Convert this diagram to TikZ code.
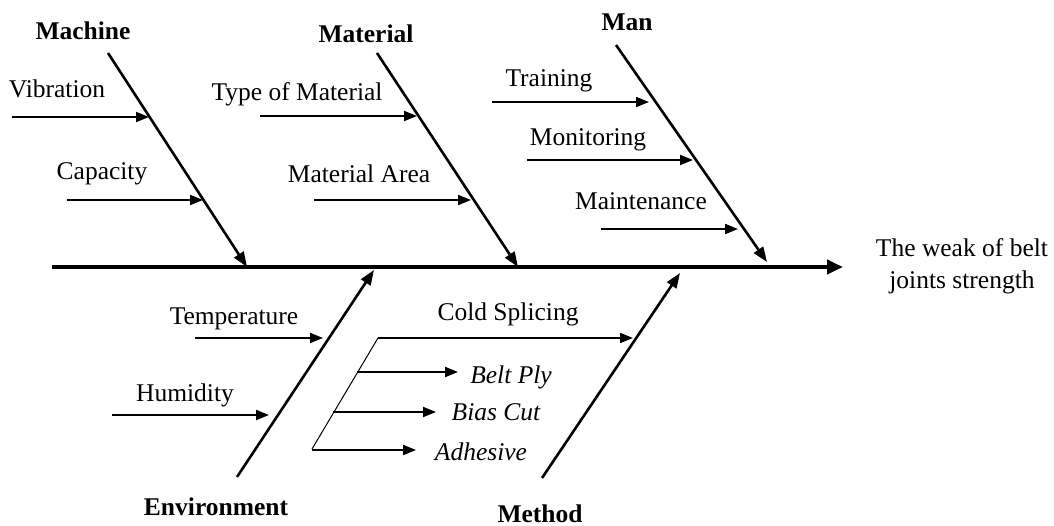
\documentclass[tikz,border=0pt]{standalone}
\usepackage{fontspec}
\setmainfont{Liberation Serif}
\usetikzlibrary{arrows.meta}
\begin{document}
\begin{tikzpicture}[x=1pt,y=-1pt,
  lbl/.style={anchor=base,inner sep=0pt,font=\fontsize{25.5}{32}\selectfont},
  cat/.style={lbl,font=\fontsize{25.5}{32}\selectfont\bfseries},
  sub/.style={lbl,font=\fontsize{25.5}{32}\selectfont\itshape},
  spine/.style={line width=4pt,-{Triangle[length=16pt,width=14pt]}},
  bone/.style={line width=2.6pt,-{Triangle[length=15pt,width=11pt]}},
  twig/.style={line width=2pt,-{Triangle[length=13pt,width=10pt]}},
  slant/.style={line width=1pt}]
\useasboundingbox (0,0) rectangle (1054,526);
% spine
\coordinate (s0) at (52,267);
\coordinate (s1) at (843,267);
\draw[spine] (s0) -- (s1);
\node[lbl,align=center,anchor=north] (effect) at (962,238) {The weak of belt\\joints strength};
% Machine
\node[cat] (machine) at (83,40) {Machine};
\coordinate (mA) at (108,53); \coordinate (mB) at (247,267);
\draw[bone] (mA) -- (mB);
\node[lbl] (vib) at (57,98) {Vibration};
\coordinate (v0) at (12,117); \coordinate (v1) at (149,117);
\draw[twig] (v0) -- (v1);
\node[lbl] (cap) at (102,180) {Capacity};
\coordinate (c0) at (67,200); \coordinate (c1) at (203,200);
\draw[twig] (c0) -- (c1);
% Material
\node[cat] (material) at (366,43) {Material};
\coordinate (tA) at (377,53); \coordinate (tB) at (518,267);
\draw[bone] (tA) -- (tB);
\node[lbl] (tom) at (297,101) {Type of Material};
\coordinate (t0) at (260,116); \coordinate (t1) at (417,116);
\draw[twig] (t0) -- (t1);
\node[lbl] (area) at (359,183) {Material Area};
\coordinate (a0) at (314,200); \coordinate (a1) at (471,200);
\draw[twig] (a0) -- (a1);
% Man
\node[cat] (man) at (627,31) {Man};
\coordinate (nA) at (616,45); \coordinate (nB) at (767,262);
\draw[bone] (nA) -- (nB);
\node[lbl] (train) at (549,87) {Training};
\coordinate (r0) at (492,102); \coordinate (r1) at (649,102);
\draw[twig] (r0) -- (r1);
\node[lbl] (mon) at (588,146) {Monitoring};
\coordinate (o0) at (527,160); \coordinate (o1) at (693,160);
\draw[twig] (o0) -- (o1);
\node[lbl] (maint) at (641,210) {Maintenance};
\coordinate (i0) at (601,229); \coordinate (i1) at (738,229);
\draw[twig] (i0) -- (i1);
% Environment
\node[cat] (env) at (216,515) {Environment};
\coordinate (eA) at (237,477); \coordinate (eB) at (374,270);
\draw[bone] (eA) -- (eB);
\node[lbl] (temp) at (234,325) {Temperature};
\coordinate (p0) at (195,338); \coordinate (p1) at (323,338);
\draw[twig] (p0) -- (p1);
\node[lbl] (hum) at (185,401) {Humidity};
\coordinate (h0) at (112,415); \coordinate (h1) at (269,415);
\draw[twig] (h0) -- (h1);
% Method
\node[cat] (method) at (540,522) {Method};
\coordinate (dA) at (542,478); \coordinate (dB) at (680,273);
\draw[bone] (dA) -- (dB);
\node[lbl] (cold) at (508,321) {Cold Splicing};
\coordinate (k0) at (378,338); \coordinate (k1) at (633,338);
\draw[twig] (k0) -- (k1);
\coordinate (kB) at (312,449);
\draw[slant] (k0) -- (kB);
\node[sub] (ply) at (511,383) {Belt Ply};
\coordinate (b0) at (357,372); \coordinate (b1) at (458,372);
\draw[twig] (b0) -- (b1);
\node[sub] (bias) at (496,420) {Bias Cut};
\coordinate (u0) at (333,412); \coordinate (u1) at (436,412);
\draw[twig] (u0) -- (u1);
\node[sub] (adh) at (481,460) {Adhesive};
\coordinate (d0) at (312,450); \coordinate (d1) at (416,450);
\draw[twig] (d0) -- (d1);
\end{tikzpicture}
\end{document}
